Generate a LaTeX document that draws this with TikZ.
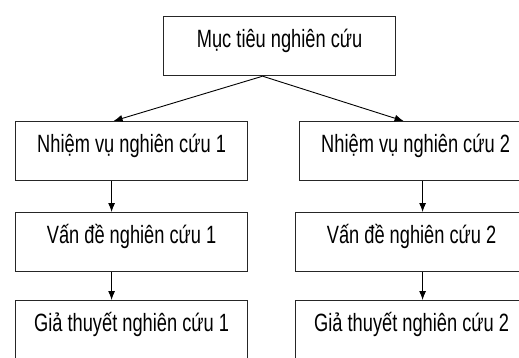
\documentclass[tikz,border=0pt]{standalone}
\usepackage{fontspec}
\setmainfont{Liberation Sans}[FakeStretch=0.73]
\usepackage{tikz}
\usetikzlibrary{arrows,arrows.meta,positioning}
\tikzstyle{arrow} = [line width=0.9pt,-{Latex[length=9pt,width=7pt]}]
\tikzset{
 box/.style
  = {rectangle, draw=black!85, line width=1.2pt, minimum width=232pt,
     inner xsep=0pt, inner ysep=0pt, text height=31pt, text depth=28pt,
     anchor=north west, font=\fontsize{25}{29}\selectfont},
}

\begin{document}
\begin{tikzpicture}[x=1pt,y=-1pt]
\useasboundingbox (0,0) rectangle (519,358);

% Goal
\node[box] (muctieu) at (163,16) {Mục tiêu nghiên cứu};

% Branch 1
\node[box] (nv1) at (15,121) {Nhiệm vụ nghiên cứu 1};
\node[box] (vd1) at (15,212) {Vấn đề nghiên cứu 1};
\node[box] (gt1) at (15,300) {Giả thuyết nghiên cứu 1};

% Branch 2
\node[box] (nv2) at (299,121) {Nhiệm vụ nghiên cứu 2};
\node[box] (vd2) at (295,212) {Vấn đề nghiên cứu 2};
\node[box] (gt2) at (295,300) {Giả thuyết nghiên cứu 2};

% Arrows
\draw[arrow] ([xshift=-17pt]muctieu.south) -- ([xshift=-18pt]nv1.north);
\draw[arrow] ([xshift=-17pt]muctieu.south) -- ([xshift=-12pt]nv2.north);
\draw[arrow] ([xshift=-20pt]nv1.south) -- ([xshift=-20pt]vd1.north);
\draw[arrow] ([xshift=-20pt]vd1.south) -- ([xshift=-20pt]gt1.north);
\draw[arrow] ([xshift=7pt]nv2.south) -- ([xshift=7pt]nv2.south |- vd2.north);
\draw[arrow] ([xshift=11pt]vd2.south) -- ([xshift=11pt]gt2.north);

\end{tikzpicture}
\end{document}
